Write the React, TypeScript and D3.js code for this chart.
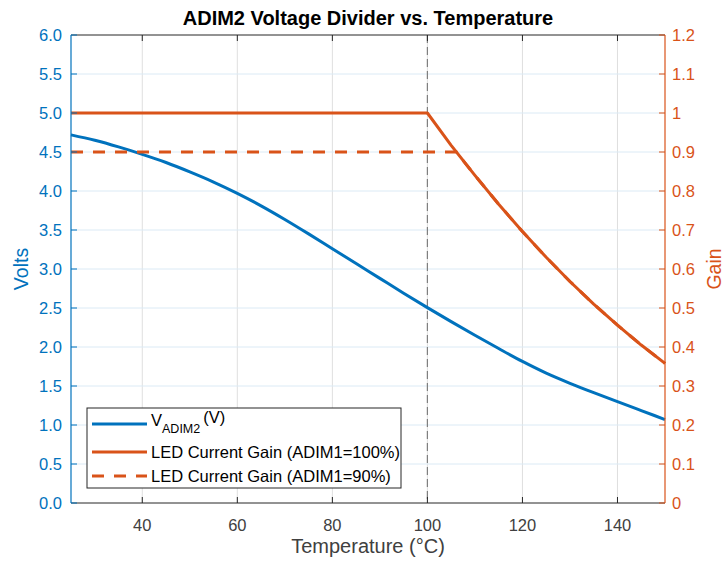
import React, { useEffect, useRef } from 'react';
import * as d3 from 'd3';

// Temperature samples (°C)
const temps = [25, 30, 35, 40, 45, 50, 55, 60, 65, 70, 75, 80, 85, 90, 95, 100, 105, 110, 115, 120, 125, 130, 135, 140, 145, 150];
// V_ADIM2 (V)
const vAdim2 = [4.72, 4.65, 4.565, 4.47, 4.365, 4.245, 4.115, 3.97, 3.81, 3.635, 3.45, 3.26, 3.07, 2.88, 2.69, 2.505, 2.325, 2.15, 1.98, 1.815, 1.665, 1.535, 1.415, 1.30, 1.185, 1.07];
// LED current gain, ADIM1 = 100%
const gain100 = [1, 1, 1, 1, 1, 1, 1, 1, 1, 1, 1, 1, 1, 1, 1, 1, 0.917, 0.840, 0.766, 0.696, 0.630, 0.568, 0.510, 0.456, 0.405, 0.358];
// LED current gain, ADIM1 = 90%
const temps90 = [25, 106.1, 110, 115, 120, 125, 130, 135, 140, 145, 150];
const gain90 = [0.9, 0.9, 0.840, 0.766, 0.696, 0.630, 0.568, 0.510, 0.456, 0.405, 0.358];

const xTicks = [40, 60, 80, 100, 120, 140];
const leftTicks = [0, 0.5, 1, 1.5, 2, 2.5, 3, 3.5, 4, 4.5, 5, 5.5, 6];
const rightTicks = [0, 0.1, 0.2, 0.3, 0.4, 0.5, 0.6, 0.7, 0.8, 0.9, 1, 1.1, 1.2];
const markerTemp = 100;

const BLUE = '#0072BD';
const ORANGE = '#D95319';
const AXIS = '#262626';
const TEXT = '#404040';
const FONT = '"Liberation Sans", Arial, Helvetica, sans-serif';

const App: React.FC = () => {
  const ref = useRef<SVGSVGElement | null>(null);

  useEffect(() => {
    if (!ref.current) return;
    const svg = d3.select(ref.current);
    svg.selectAll('*').remove();

    const W = 725;
    const H = 561;
    const margin = { top: 35, right: 60, bottom: 58, left: 71 };
    const width = W - margin.left - margin.right;
    const height = H - margin.top - margin.bottom;

    const x = d3.scaleLinear().domain([25, 150]).range([0, width]);
    const yL = d3.scaleLinear().domain([0, 6]).range([height, 0]);
    const yR = d3.scaleLinear().domain([0, 1.2]).range([height, 0]);

    svg.attr('width', W).attr('height', H).style('font-family', FONT);

    const g = svg.append('g').attr('transform', `translate(${margin.left},${margin.top})`);

    // Grid
    g.append('g')
      .selectAll('line')
      .data(xTicks)
      .join('line')
      .attr('x1', d => x(d)).attr('x2', d => x(d))
      .attr('y1', 0).attr('y2', height)
      .attr('stroke', '#dfdfdf').attr('stroke-width', 1);
    g.append('g')
      .selectAll('line')
      .data(leftTicks.slice(1, -1))
      .join('line')
      .attr('x1', 0).attr('x2', width)
      .attr('y1', d => yL(d)).attr('y2', d => yL(d))
      .attr('stroke', '#dbeaf5').attr('stroke-width', 1);

    // Vertical dashed marker
    g.append('line')
      .attr('x1', x(markerTemp)).attr('x2', x(markerTemp))
      .attr('y1', 0).attr('y2', height)
      .attr('stroke', '#7f7f7f').attr('stroke-width', 1.2)
      .attr('stroke-dasharray', '8,4');

    // Lines
    const lineL = d3.line<number>().x((_, i) => x(temps[i])).y(d => yL(d)).curve(d3.curveMonotoneX);
    const lineR = d3.line<number>().x((_, i) => x(temps[i])).y(d => yR(d));
    const lineR90 = d3.line<number>().x((_, i) => x(temps90[i])).y(d => yR(d));

    g.append('path').datum(vAdim2).attr('d', lineL)
      .attr('fill', 'none').attr('stroke', BLUE).attr('stroke-width', 3);
    g.append('path').datum(gain100).attr('d', lineR)
      .attr('fill', 'none').attr('stroke', ORANGE).attr('stroke-width', 3)
      .attr('stroke-linejoin', 'round');
    g.append('path').datum(gain90).attr('d', lineR90)
      .attr('fill', 'none').attr('stroke', ORANGE).attr('stroke-width', 3)
      .attr('stroke-dasharray', '12,10');

    // Axes box
    g.append('line').attr('x1', 0).attr('x2', width).attr('y1', 0).attr('y2', 0)
      .attr('stroke', AXIS).attr('stroke-width', 1);
    g.append('line').attr('x1', 0).attr('x2', width).attr('y1', height).attr('y2', height)
      .attr('stroke', AXIS).attr('stroke-width', 1);

    // X ticks (bottom & top, inward)
    const tickLen = 6;
    xTicks.forEach(t => {
      g.append('line').attr('x1', x(t)).attr('x2', x(t)).attr('y1', height).attr('y2', height - tickLen)
        .attr('stroke', AXIS);
      g.append('line').attr('x1', x(t)).attr('x2', x(t)).attr('y1', 0).attr('y2', tickLen)
        .attr('stroke', AXIS);
      g.append('text').attr('x', x(t)).attr('y', height + 27.5)
        .attr('text-anchor', 'middle').attr('font-size', 16.5).attr('fill', TEXT)
        .text(String(t));
    });

    // Left axis
    g.append('line').attr('x1', 0).attr('x2', 0).attr('y1', 0).attr('y2', height)
      .attr('stroke', BLUE).attr('stroke-width', 1.2);
    leftTicks.forEach(t => {
      g.append('line').attr('x1', 0).attr('x2', tickLen).attr('y1', yL(t)).attr('y2', yL(t))
        .attr('stroke', BLUE);
      g.append('text').attr('x', -9).attr('y', yL(t)).attr('dy', '0.36em')
        .attr('text-anchor', 'end').attr('font-size', 16.5).attr('fill', BLUE)
        .text(d3.format('.1f')(t));
    });

    // Right axis
    g.append('line').attr('x1', width).attr('x2', width).attr('y1', 0).attr('y2', height)
      .attr('stroke', ORANGE).attr('stroke-width', 1.2);
    rightTicks.forEach(t => {
      g.append('line').attr('x1', width).attr('x2', width - tickLen).attr('y1', yR(t)).attr('y2', yR(t))
        .attr('stroke', ORANGE);
      g.append('text').attr('x', width + 7).attr('y', yR(t)).attr('dy', '0.36em')
        .attr('text-anchor', 'start').attr('font-size', 16.5).attr('fill', ORANGE)
        .text(String(d3.format('~g')(t)));
    });

    // Labels
    svg.append('text').attr('x', margin.left + width / 2).attr('y', 25)
      .attr('text-anchor', 'middle').attr('font-size', 20).attr('font-weight', 'bold')
      .attr('fill', '#000').text('ADIM2 Voltage Divider vs. Temperature');
    svg.append('text').attr('x', margin.left + width / 2).attr('y', 553)
      .attr('text-anchor', 'middle').attr('font-size', 20).attr('fill', TEXT)
      .text('Temperature (°C)');
    svg.append('text')
      .attr('transform', `translate(28,${margin.top + height / 2}) rotate(-90)`)
      .attr('text-anchor', 'middle').attr('font-size', 19.5).attr('fill', BLUE)
      .text('Volts');
    svg.append('text')
      .attr('transform', `translate(721,${margin.top + height / 2}) rotate(-90)`)
      .attr('text-anchor', 'middle').attr('font-size', 19.5).attr('fill', ORANGE)
      .text('Gain');

    // Legend
    const lg = svg.append('g').attr('transform', 'translate(87,408)');
    lg.append('rect').attr('width', 314).attr('height', 80)
      .attr('fill', '#fff').attr('stroke', '#262626').attr('stroke-width', 1);
    const items = [
      { color: BLUE, dash: '', y: 16 },
      { color: ORANGE, dash: '', y: 44 },
      { color: ORANGE, dash: '12,10', y: 68 },
    ];
    items.forEach(it => {
      lg.append('line').attr('x1', 5).attr('x2', 60).attr('y1', it.y).attr('y2', it.y)
        .attr('stroke', it.color).attr('stroke-width', 3)
        .attr('stroke-dasharray', it.dash);
    });
    const t0 = lg.append('text').attr('x', 64).attr('y', 16).attr('dy', '0.1em')
      .attr('font-size', 16.5).attr('fill', '#000');
    t0.append('tspan').text('V');
    t0.append('tspan').attr('font-size', 12.5).attr('dy', '0.55em').text('ADIM2');
    t0.append('tspan').attr('dy', '-0.55em').attr('dx', '3').text('(V)');
    lg.append('text').attr('x', 64).attr('y', 44).attr('dy', '0.36em')
      .attr('font-size', 16.5).attr('fill', '#000').text('LED Current Gain (ADIM1=100%)');
    lg.append('text').attr('x', 64).attr('y', 68).attr('dy', '0.36em')
      .attr('font-size', 16.5).attr('fill', '#000').text('LED Current Gain (ADIM1=90%)');
  }, []);

  return (
    <svg ref={ref} style={{ position: 'absolute', left: 0, top: 0, background: '#fff' }}></svg>
  );
};

export default App;
